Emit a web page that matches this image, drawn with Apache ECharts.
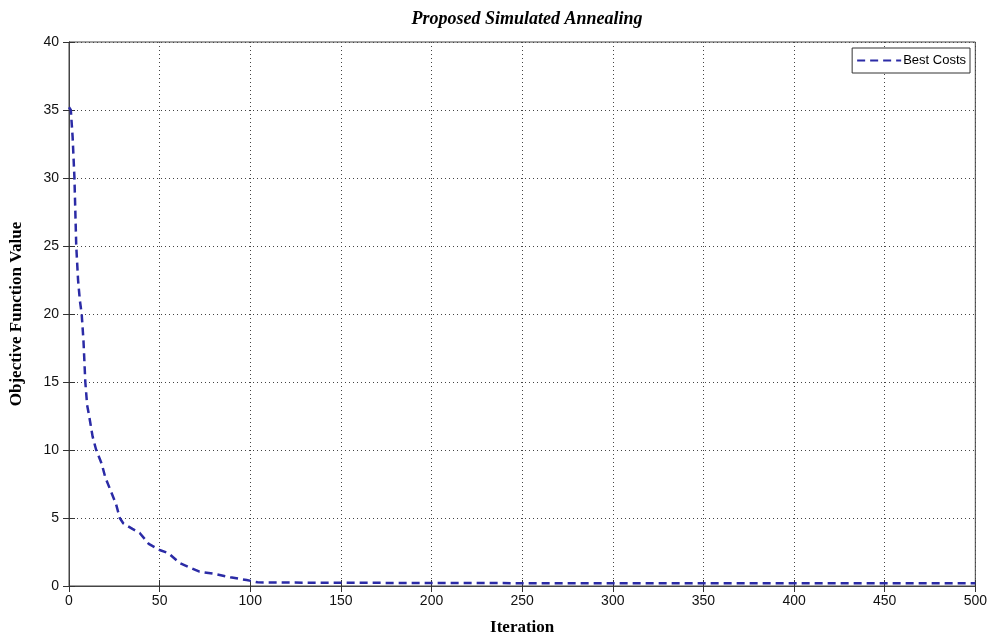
<!DOCTYPE html>
<html>
<head>
<meta charset="utf-8">
<script src="https://cdn.jsdelivr.net/npm/echarts@6/dist/echarts.min.js"></script>
<style>
  html, body { margin: 0; padding: 0; background: #fff; }
  #main { width: 990px; height: 641px; }
</style>
</head>
<body>
<div id="main"></div>
<script>
// best cost per iteration
const iterations = [0, 1, 2, 3, 4, 5, 6, 7, 8, 9, 10, 11, 13, 15, 18, 20, 23, 26, 28, 30, 35, 39, 44, 50, 55, 61, 66, 72, 80, 89, 98, 104, 120, 200, 300, 400, 500]
const bestCosts = [35.2, 35, 33, 30, 25, 22.5, 21, 20, 18, 15, 13.3, 12.6, 11, 10, 9, 8, 7, 6, 5, 4.6, 4.2, 3.9, 3.1, 2.65, 2.4, 1.7, 1.4, 1.05, 0.9, 0.64, 0.44, 0.27, 0.25, 0.22, 0.2, 0.2, 0.2]
const xTicks = [0, 500, 50]
const yTicks = [0, 40, 5]

const chart = echarts.init(document.getElementById('main'), null, { renderer: 'canvas' })

const labelFont = { color: '#111', fontFamily: 'Liberation Sans', fontSize: 14 }
const nameFont = { color: '#000', fontFamily: 'Liberation Serif', fontWeight: 'bold', fontSize: 17 }
const tick = { show: true, inside: true, length: 6, lineStyle: { color: '#333' } }
const dotted = { show: true, lineStyle: { color: '#444', type: [1, 3], width: 1 } }

const option = {
  backgroundColor: '#fff',
  animation: false,
  title: {
    text: 'Proposed Simulated Annealing',
    left: 522,
    textAlign: 'center',
    top: 5,
    textStyle: { fontFamily: 'Liberation Serif', fontStyle: 'italic', fontWeight: 'bold', fontSize: 18, color: '#000' }
  },
  legend: {
    right: 20,
    top: 48,
    data: ['Best Costs'],
    itemWidth: 44,
    itemHeight: 10,
    itemGap: 2,
    padding: [6, 4, 6, 4],
    borderColor: '#333',
    borderWidth: 1,
    borderRadius: 0,
    backgroundColor: '#fff',
    itemStyle: { opacity: 0 },
    textStyle: { fontFamily: 'Liberation Sans', fontSize: 13, color: '#000', padding: [0, 0, 0, -3] }
  },
  grid: { left: 69, right: 13, top: 42, bottom: 55, show: true, borderColor: '#444', borderWidth: 1 },
  xAxis: [{
    type: 'value',
    min: xTicks[0], max: xTicks[1], interval: xTicks[2],
    name: 'Iteration',
    nameLocation: 'middle',
    nameGap: 33,
    nameTextStyle: nameFont,
    axisLine: { show: true, onZero: false, lineStyle: { color: '#444' } },
    axisTick: tick,
    axisLabel: Object.assign({ margin: 8 }, labelFont),
    splitLine: dotted
  }, {
    type: 'value',
    position: 'top',
    min: xTicks[0], max: xTicks[1], interval: xTicks[2],
    axisLine: { show: true, lineStyle: { color: '#444' } },
    axisTick: tick,
    axisLabel: { show: false },
    splitLine: { show: false }
  }],
  yAxis: [{
    type: 'value',
    min: yTicks[0], max: yTicks[1], interval: yTicks[2],
    name: 'Objective Function Value',
    nameLocation: 'middle',
    nameGap: 44,
    nameTextStyle: nameFont,
    axisLine: { show: true, lineStyle: { color: '#444' } },
    axisTick: tick,
    axisLabel: Object.assign({ margin: 10 }, labelFont),
    splitLine: dotted
  }, {
    type: 'value',
    position: 'right',
    min: yTicks[0], max: yTicks[1], interval: yTicks[2],
    axisLine: { show: true, lineStyle: { color: '#444' } },
    axisTick: tick,
    axisLabel: { show: false },
    splitLine: { show: false }
  }],
  series: [{
    name: 'Best Costs',
    type: 'line',
    data: iterations.map((it, i) => [it, bestCosts[i]]),
    symbol: 'none',
    color: '#2b2ba6',
    lineStyle: { color: '#2b2ba6', width: 2.5, type: [8, 5] }
  }]
}

chart.setOption(option)
</script>
</body>
</html>
